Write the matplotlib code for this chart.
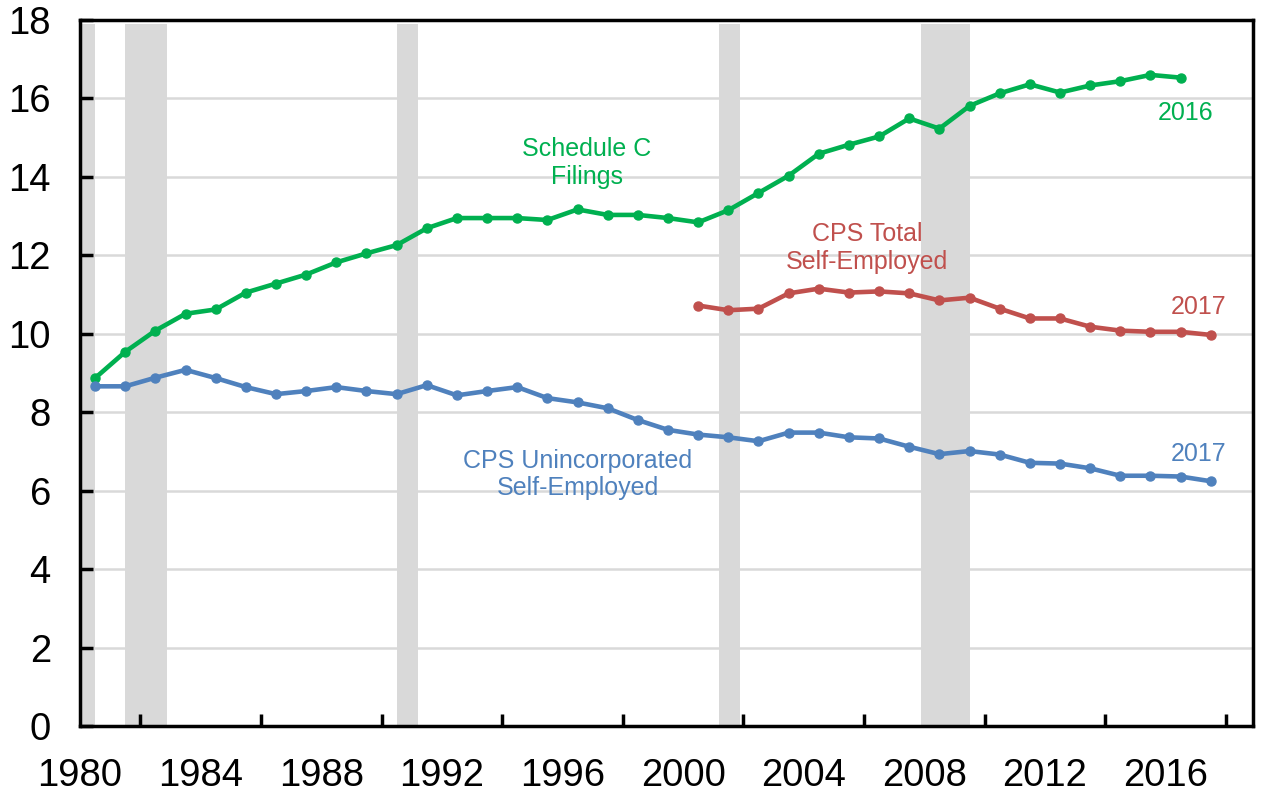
#!/usr/bin/env python
# self-employment series with recession shading
import numpy as np
import matplotlib
matplotlib.use('Agg')
import matplotlib.pyplot as plt

plt.rcParams['font.family'] = ['Liberation Sans', 'DejaVu Sans']

# Schedule C filings, 1980-2016
sched_years = np.arange(1980, 2017)
sched_c = [8.87, 9.54, 10.08, 10.51, 10.62, 11.05, 11.28, 11.51, 11.82, 12.05,
           12.26, 12.69, 12.95, 12.95, 12.95, 12.90, 13.17, 13.03, 13.03, 12.95,
           12.84, 13.15, 13.59, 14.03, 14.59, 14.82, 15.03, 15.49, 15.23, 15.81,
           16.13, 16.36, 16.15, 16.33, 16.44, 16.60, 16.53]

# CPS total self-employed, 2000-2017
tot_years = np.arange(2000, 2018)
cps_total = [10.72, 10.60, 10.64, 11.03, 11.15, 11.05, 11.08, 11.03, 10.85, 10.92,
             10.64, 10.39, 10.39, 10.18, 10.08, 10.05, 10.05, 9.97]

# CPS unincorporated self-employed, 1980-2017
uninc_years = np.arange(1980, 2018)
cps_uninc = [8.66, 8.66, 8.88, 9.08, 8.87, 8.64, 8.46, 8.54, 8.64, 8.54,
             8.46, 8.69, 8.43, 8.54, 8.64, 8.36, 8.25, 8.10, 7.80, 7.55,
             7.43, 7.36, 7.26, 7.48, 7.48, 7.36, 7.33, 7.12, 6.93, 7.01,
             6.92, 6.71, 6.69, 6.57, 6.38, 6.38, 6.36, 6.24]

# NBER recessions
recessions = [(1980.0, 1980.5), (1981.5, 1982.9), (1990.5, 1991.2),
              (2001.2, 2001.9), (2007.9, 2009.5)]

green = '#00b050'
red = '#c0504d'
blue = '#4f81bd'
grey = '#d9d9d9'

fig = plt.figure(figsize=(12.64, 7.93), dpi=100)
ax = fig.add_axes([0.0633, 0.0845, 0.9280, 0.8903])

for start, end in recessions:
    ax.axvspan(start, end, ymin=0, ymax=0.994, color=grey, lw=0, zorder=1)

for y in range(2, 18, 2):
    ax.axhline(y, color=grey, lw=1.8, zorder=0.5)

# points plotted mid-year
ax.plot(sched_years + 0.5, sched_c, color=green, lw=3.3, marker='o', ms=6.5, zorder=3)
ax.plot(tot_years + 0.5, cps_total, color=red, lw=3.3, marker='o', ms=6.5, zorder=3)
ax.plot(uninc_years + 0.5, cps_uninc, color=blue, lw=3.3, marker='o', ms=6.5, zorder=3)

ax.text(1996.8, 14.36, 'Schedule C\nFilings', color=green, fontsize=18,
        ha='center', va='center', linespacing=1.2)
ax.text(2006.1, 12.18, 'CPS Total\nSelf-Employed', color=red, fontsize=18,
        ha='center', va='center', linespacing=1.2)
ax.text(1996.5, 6.41, 'CPS Unincorporated\nSelf-Employed', color=blue, fontsize=18,
        ha='center', va='center', linespacing=1.2)
ax.text(2016.65, 15.62, '2016', color=green, fontsize=18, ha='center', va='center')
ax.text(2017.1, 10.68, '2017', color=red, fontsize=18, ha='center', va='center')
ax.text(2017.1, 6.93, '2017', color=blue, fontsize=18, ha='center', va='center')

ax.set_xlim(1980, 2018.9)
ax.set_ylim(0, 18)
ax.set_yticks(range(0, 19, 2))
ax.set_xticks(range(1980, 2017, 4))
ax.set_xticks(range(1982, 2019, 2), minor=True)

ax.tick_params(axis='y', direction='in', length=9, width=2.5, labelsize=27.5, pad=21)
ax.tick_params(axis='x', which='both', direction='in', length=9, width=2.5,
               labelsize=27.5, pad=23)
ax.tick_params(axis='x', which='major', length=0)

for side in ['left', 'bottom', 'top', 'right']:
    ax.spines[side].set_linewidth(2.5)
    ax.spines[side].set_zorder(5)

fig.savefig('out.png', dpi=100)
